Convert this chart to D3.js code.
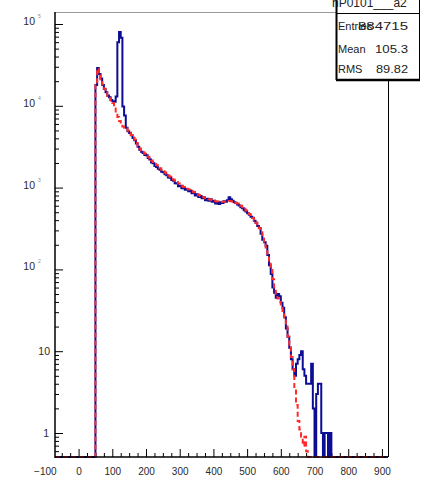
<!DOCTYPE html>
<html>
<head>
<meta charset="utf-8">
<script src="https://cdn.jsdelivr.net/npm/d3@7"></script>
<style>
body { margin: 0; background: #fff; }
svg { display: block; font-family: "Liberation Sans", Arial, sans-serif; }
</style>
</head>
<body>
<div id="plot"></div>
<script>
// Histogram binning (first lower edge, width)
var binStart = 50;
var binWidth = 5;

// Blue histogram contents, one per bin from 50 to 750
var blueCounts = [
  18000, 29000, 24500, 21500, 18000, 16000, 14600, 13400, 12700, 11800,
  11400, 11200, 13000, 60000, 80000, 68000, 9800, 7600, 5400, 4900,
  4650, 4350, 4050, 3800, 3450, 3150, 2900, 2750, 2650, 2500,
  2480, 2300, 2200, 2030, 1980, 1840, 1790, 1700, 1650, 1560,
  1540, 1460, 1420, 1330, 1320, 1240, 1210, 1130, 1120, 1040,
  1050, 980, 1000, 940, 960, 900, 920, 850, 880, 800,
  830, 770, 790, 740, 760, 700, 730, 690, 720, 670,
  690, 640, 660, 630, 660, 650, 680, 670, 700, 760,
  720, 690, 660, 650, 620, 605, 575, 560, 530, 512,
  485, 465, 440, 428, 392, 372, 340, 320, 272, 230,
  215, 195, 150, 112, 88, 60, 52, 45, 50, 47,
  39, 34, 26, 19, 15, 11, 8, 6, 5, 7,
  8, 9, 10, 6, 5, 4, 4, 4, 7, 2,
  0, 3, 4, 4, 1, 0, 1, 1, 0, 1
];

// Red dashed histogram contents, same bins
var redCounts = [
  18000, 28500, 24000, 21000, 18200, 16200, 14500, 13200, 12400, 11600,
  10800, 9300, 8200, 7300, 6500, 5900, 5600, 5400, 5300, 4950,
  4700, 4400, 4100, 3850, 3500, 3200, 3000, 2850, 2700, 2600,
  2500, 2380, 2250, 2150, 2050, 1950, 1870, 1790, 1720, 1650,
  1590, 1530, 1470, 1410, 1360, 1310, 1260, 1210, 1170, 1120,
  1080, 1050, 1020, 990, 970, 950, 920, 900, 880, 850,
  830, 810, 790, 770, 760, 740, 730, 720, 710, 700,
  690, 680, 675, 670, 668, 670, 672, 675, 680, 685,
  682, 676, 668, 655, 640, 620, 598, 575, 550, 525,
  500, 475, 450, 425, 400, 372, 345, 318, 285, 250,
  218, 185, 155, 125, 98, 76, 60, 50, 44, 40,
  35, 30, 25, 20, 15, 12, 8.5, 6, 3.5, 2.2,
  1.4, 1.1, 0.9, 0.7, 0.9, 0.6, 0, 0, 0, 0,
  0, 0, 0, 0, 0, 0, 0, 0, 0, 0
];

// Axis labels
var xLabels = [-100, 0, 100, 200, 300, 400, 500, 600, 700, 800, 900];
var yDecades = [1, 10, 100, 1000, 10000, 100000];

// Stats box
var statsTitle = "hP0101___a2";
var statsNames = ["Entries", "Mean", "RMS"];
var statsValues = ["884715", "105.3", "89.82"];

var width = 421;
var height = 483;

// Frame
var fLeft = 55;
var fRight = 388;
var fTop = 12;
var fBottom = 457;

var svg = d3.select("#plot")
  .append("svg")
  .attr("width", width)
  .attr("height", height);

var xScale = d3.scaleLinear().domain([-70, 918]).range([fLeft, fRight]);
var yScale = d3.scaleLog().domain([1, 100000]).range([433, 24]);

function yPos(v) {
  return v > 0 ? yScale(v) : fBottom;
}

// Frame lines
svg.append("line")
  .attr("x1", fLeft).attr("x2", fRight)
  .attr("y1", fTop + 0.5).attr("y2", fTop + 0.5)
  .attr("stroke", "#999").attr("stroke-width", 1);
svg.append("line")
  .attr("x1", fRight + 0.5).attr("x2", fRight + 0.5)
  .attr("y1", fTop).attr("y2", fBottom)
  .attr("stroke", "#000").attr("stroke-width", 1);

// X ticks (inside the frame)
var xMinor = d3.range(-50, 918, 25).filter(function(d) { return d % 100 !== 0; });
var xMajor = d3.range(0, 918, 100);

svg.append("g")
  .attr("class", "xMinor")
  .attr("transform", "translate(0," + fBottom + ")")
  .call(d3.axisBottom(xScale).tickValues(xMinor).tickSize(-4).tickFormat(""))
  .call(function(g) { g.select(".domain").remove(); });

svg.append("g")
  .attr("class", "xMajor")
  .attr("transform", "translate(0," + fBottom + ")")
  .call(d3.axisBottom(xScale).tickValues(xMajor).tickSize(-8).tickFormat(""))
  .call(function(g) { g.select(".domain").remove(); });

// X labels
svg.append("g")
  .attr("class", "xLabels")
  .attr("transform", "translate(0," + fBottom + ")")
  .call(d3.axisBottom(xScale).tickValues(xLabels).tickSize(0).tickPadding(11)
    .tickFormat(function(d) { return d < 0 ? "\u2212" + Math.abs(d) : d; }))
  .call(function(g) {
    g.select(".domain").remove();
    g.selectAll("text")
      .attr("font-size", 10)
      .attr("font-family", "Liberation Sans, Arial, sans-serif")
      .attr("fill", "#2a2a2a");
  });

// Y ticks (inside the frame)
var yMinor = [];
yDecades.forEach(function(dec) {
  for (var k = 2; k <= 9; k++) {
    var v = dec * k;
    if (yScale(v) > fTop) yMinor.push(v);
  }
});
yMinor.push(0.6, 0.7, 0.8, 0.9);

svg.append("g")
  .attr("class", "yMinor")
  .attr("transform", "translate(" + fLeft + ",0)")
  .call(d3.axisLeft(yScale).tickValues(yMinor).tickSize(-4).tickFormat(""))
  .call(function(g) { g.select(".domain").remove(); });

svg.append("g")
  .attr("class", "yMajor")
  .attr("transform", "translate(" + fLeft + ",0)")
  .call(d3.axisLeft(yScale).tickValues(yDecades).tickSize(-8).tickFormat(""))
  .call(function(g) { g.select(".domain").remove(); });

// Y labels: 10 with small exponent
var yLab = svg.append("g").attr("class", "yLabels");
yDecades.forEach(function(dec) {
  var n = Math.round(Math.log10(dec));
  var ty = yScale(dec);
  if (n === 0) {
    yLab.append("text").attr("x", 49).attr("y", ty + 4)
      .attr("text-anchor", "end").attr("font-size", 10.5).attr("fill", "#2a2a2a").text("1");
  }
  else if (n === 1) {
    yLab.append("text").attr("x", 50).attr("y", ty + 4)
      .attr("text-anchor", "end").attr("font-size", 10.5).attr("fill", "#2a2a2a").text("10");
  }
  else {
    yLab.append("text").attr("x", 35).attr("y", ty + 1)
      .attr("text-anchor", "end").attr("font-size", 10.5).attr("fill", "#2a2a2a").text("10");
    yLab.append("text").attr("x", 38).attr("y", ty - 6)
      .attr("font-size", 5).attr("fill", "#888").text(n);
  }
});

// Histograms
svg.append("clipPath").attr("id", "frameClip")
  .append("rect")
  .attr("x", fLeft).attr("y", fTop)
  .attr("width", fRight - fLeft).attr("height", fBottom - fTop + 1);

function histPoints(counts) {
  var pts = [[xScale.domain()[0], 0]];
  counts.forEach(function(c, i) {
    pts.push([binStart + i * binWidth, c]);
  });
  pts.push([binStart + counts.length * binWidth, 0]);
  pts.push([xScale.domain()[1], 0]);
  return pts;
}

var stepLine = d3.line()
  .x(function(d) { return xScale(d[0]); })
  .y(function(d) { return yPos(d[1]); })
  .curve(d3.curveStepAfter);

var plotArea = svg.append("g").attr("clip-path", "url(#frameClip)");

plotArea.append("path")
  .datum(histPoints(blueCounts))
  .attr("d", stepLine)
  .attr("fill", "none")
  .attr("stroke", "#0c0c94")
  .attr("stroke-width", 2);

plotArea.append("path")
  .datum(histPoints(redCounts))
  .attr("d", stepLine)
  .attr("fill", "none")
  .attr("stroke", "#ff2a2a")
  .attr("stroke-width", 2)
  .attr("stroke-dasharray", "5,3");

// Axis lines
svg.append("line")
  .attr("x1", fLeft).attr("x2", fLeft)
  .attr("y1", fTop).attr("y2", fBottom + 1)
  .attr("stroke", "#000").attr("stroke-width", 1.5);
svg.append("line")
  .attr("x1", fLeft).attr("x2", fRight)
  .attr("y1", fBottom).attr("y2", fBottom)
  .attr("stroke", "#000").attr("stroke-width", 1.5);

// Stats box
var box = svg.append("g").attr("class", "stats");
box.append("rect")
  .attr("x", 336.5).attr("y", -1)
  .attr("width", 83).attr("height", 81)
  .attr("fill", "#fff").attr("stroke", "#000").attr("stroke-width", 1);
box.append("line")
  .attr("x1", 336.5).attr("x2", 336.5).attr("y1", -1).attr("y2", 80)
  .attr("stroke", "#000").attr("stroke-width", 2);
box.append("line")
  .attr("x1", 336).attr("x2", 420).attr("y1", 80).attr("y2", 80)
  .attr("stroke", "#000").attr("stroke-width", 2.5);
box.append("line")
  .attr("x1", 336).attr("x2", 420).attr("y1", 13.5).attr("y2", 13.5)
  .attr("stroke", "#000").attr("stroke-width", 1);
box.append("text")
  .attr("x", 332).attr("y", 7)
  .attr("font-size", 12).attr("fill", "#222")
  .text(statsTitle);

var rowY = [30, 53, 73];
var valWidth = [50, 33, 32];
statsNames.forEach(function(name, i) {
  box.append("text")
    .attr("x", 338).attr("y", rowY[i])
    .attr("font-size", 11).attr("fill", "#222")
    .text(name);
  box.append("text")
    .attr("x", 408).attr("y", rowY[i])
    .attr("text-anchor", "end")
    .attr("font-size", 11).attr("fill", "#222")
    .attr("textLength", valWidth[i])
    .attr("lengthAdjust", "spacingAndGlyphs")
    .text(statsValues[i]);
});
</script>
</body>
</html>
